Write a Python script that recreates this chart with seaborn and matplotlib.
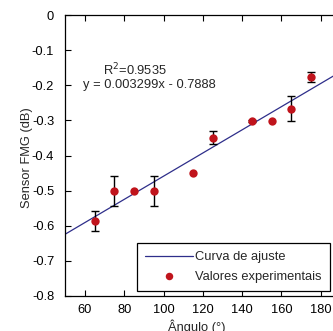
import numpy as np
import pandas as pd
import matplotlib
matplotlib.use("Agg")
import matplotlib.pyplot as plt
import seaborn as sns

# ---- data ----
angles = [65, 75, 85, 95, 115, 125, 145, 155, 165, 175]
sensor = [-0.587, -0.500, -0.500, -0.500, -0.450, -0.349, -0.302, -0.302, -0.267, -0.176]
errors = [0.028, 0.043, 0.0, 0.043, 0.0, 0.018, 0.004, 0.0, 0.036, 0.015]
fit_slope = 0.003299
fit_intercept = -0.7888
fit_x = [50, 200]
r2_text = "R$^2$=0.9535"
eq_text = "y = 0.003299x - 0.7888"
x_ticks = [60, 80, 100, 120, 140, 160, 180, 200]
y_ticks = [0, -0.1, -0.2, -0.3, -0.4, -0.5, -0.6, -0.7, -0.8]
y_tick_labels = ["0", "-0.1", "-0.2", "-0.3", "-0.4", "-0.5", "-0.6", "-0.7", "-0.8"]

FS = 9.3
sns.set_style("ticks")
plt.rcParams["font.family"] = ["Liberation Sans", "DejaVu Sans"]
plt.rcParams["font.size"] = FS

W, H = 333, 331
fig = plt.figure(figsize=(W / 100, H / 100), dpi=100)
ax_l, ax_r, ax_t, ax_b = 65.3, 360.0, 15.0, 296.0
ax = fig.add_axes([ax_l / W, 1 - ax_b / H, (ax_r - ax_l) / W, (ax_b - ax_t) / H])

fit_df = pd.DataFrame({"x": fit_x,
                       "y": [fit_slope * v + fit_intercept for v in fit_x]})
pts_df = pd.DataFrame({"x": angles, "y": sensor, "err": errors})

line_color = "#2e2e8a"
dot_color = "#c0141c"

sns.lineplot(data=fit_df, x="x", y="y", ax=ax, color=line_color, lw=0.9,
             label="Curva de ajuste")
eb = pts_df[pts_df["err"] > 0]
ax.errorbar(eb["x"], eb["y"], yerr=eb["err"], fmt="none", ecolor="black",
            elinewidth=1.0, capsize=2.7, capthick=1.0, zorder=3)
sns.scatterplot(data=pts_df, x="x", y="y", ax=ax, color=dot_color, s=36,
                edgecolor=dot_color, linewidth=0, zorder=4,
                label="Valores experimentais")

ax.set_xlim(50, 200)
ax.set_ylim(-0.8, 0)
ax.set_xticks(x_ticks)
ax.set_xticklabels([str(t) if t < 200 else "" for t in x_ticks])
ax.set_yticks(y_ticks)
ax.set_yticklabels(y_tick_labels)
ax.tick_params(direction="in", top=True, right=True, length=4, width=0.8,
               labelsize=FS, colors="black")
ax.tick_params(axis="y", pad=8)
ax.tick_params(axis="x", pad=6)
for s in ax.spines.values():
    s.set_visible(True)
    s.set_color("black")
    s.set_linewidth(0.9)

ax.set_xlabel("Ângulo (°)", fontsize=FS)
ax.set_ylabel("Sensor FMG (dB)", fontsize=FS)
ax.xaxis.label.set_position(((197 - ax_l) / (ax_r - ax_l), 0))
ax.xaxis.labelpad = 2
ax.yaxis.set_label_coords((33 - ax_l) / (ax_r - ax_l), (ax_b - 158) / (ax_b - ax_t))

ax.text(69.0, -0.157, r2_text, fontsize=FS, ha="left", va="center")
ax.text(59.0, -0.200, eq_text, fontsize=FS, ha="left", va="center")

leg = ax.legend(loc="upper left", bbox_to_anchor=(137 / W, 1 - 243 / H),
                bbox_transform=fig.transFigure, borderaxespad=0,
                frameon=True, fancybox=False, edgecolor="black",
                framealpha=1, fontsize=FS, handlelength=3.7,
                handletextpad=0.15, labelspacing=0.55, borderpad=0.65,
                markerscale=0.9)
leg.get_frame().set_linewidth(0.9)

fig.savefig("out.png", dpi=100)
